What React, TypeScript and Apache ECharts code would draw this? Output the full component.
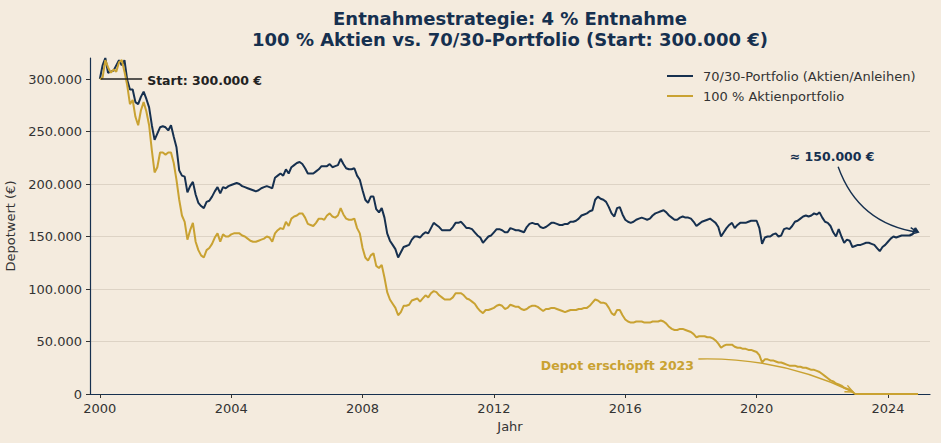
import React, { useEffect, useRef } from "react";
import * as echarts from "echarts";

const START_YEAR = 2000;
const xTickYears = [2000, 2004, 2008, 2012, 2016, 2020, 2024];
const yTickValues = [0, 50000, 100000, 150000, 200000, 250000, 300000];
const seriesNames = ["70/30-Portfolio (Aktien/Anleihen)", "100 % Aktienportfolio"];
const titleLines = [
  "Entnahmestrategie: 4 % Entnahme",
  "100 % Aktien vs. 70/30-Portfolio (Start: 300.000 €)",
];

// monthly values in thousand €, Jan 2000 .. Dec 2024
const balanced = [
  300, 313, 320, 306, 307, 308, 313, 318, 313, 318, 299, 290,
  290, 278, 276, 283, 288, 281, 273, 256, 242, 248, 254, 255,
  254, 251, 256, 245, 235, 213, 208, 207, 192, 198, 202, 190,
  182, 179, 177, 183, 184, 188, 193, 197, 191, 197, 196, 198,
  199, 200, 201, 200, 198, 197, 196, 195, 194, 193, 194, 196,
  197, 198, 197, 196, 206, 208, 210, 208, 214, 210, 216, 218,
  220, 221, 219, 215, 210, 210, 210, 212, 214, 217, 217, 217,
  219, 216, 217, 218, 224, 219, 215, 214, 214, 215, 208, 204,
  194, 185, 182, 188, 188, 176, 173, 177, 168, 153, 146, 142,
  138, 130, 135, 140, 141, 142, 147, 150, 150, 149, 152, 154,
  153, 158, 163, 161, 159, 156, 156, 156, 156, 159, 163, 163,
  164, 161, 158, 158, 157, 154, 151, 149, 144, 147, 150, 151,
  154, 157, 157, 156, 154, 154, 158, 157, 156, 156, 155, 154,
  159, 162, 163, 162, 162, 159, 158, 159, 161, 163, 163, 162,
  161, 161, 162, 162, 164, 164, 165, 167, 170, 171, 172, 174,
  175, 185, 188, 186, 185, 183, 178, 172, 169, 177, 178, 171,
  166, 164, 163, 164, 166, 167, 168, 167, 166, 167, 170, 172,
  173, 174, 175, 173, 170, 168, 166, 166, 168, 169, 168, 168,
  167, 164, 160, 162, 164, 165, 166, 167, 165, 163, 159, 150,
  154, 158, 161, 163, 158, 161, 163, 163, 163, 164, 165, 165,
  165, 158, 143, 149, 150, 150, 152, 153, 150, 151, 157, 158,
  157, 160, 164, 165, 167, 169, 170, 169, 170, 172, 171, 173,
  168, 164, 163, 160, 154, 150, 157, 150, 144, 147, 146, 140,
  141, 142, 142, 143, 144, 144, 143, 142, 139, 136, 140, 142,
  145, 148, 150, 149, 150, 151, 151, 151, 151, 152, 158, 154,
];

const equity = [
  300, 301, 318, 311, 306, 309, 307, 316, 318, 307, 294, 276,
  280, 264, 256, 270, 278, 269, 256, 232, 211, 216, 230, 230,
  228, 230, 230, 220, 204, 185, 170, 164, 147, 156, 163, 145,
  137, 132, 130, 137, 139, 143, 149, 153, 145, 152, 150, 150,
  152, 153, 153, 153, 151, 150, 148, 146, 145, 145, 146, 147,
  148, 150, 149, 145, 153, 156, 158, 157, 164, 160, 167, 169,
  170, 172, 172, 168, 162, 161, 160, 163, 167, 167, 166, 170,
  172, 169, 168, 170, 177, 171, 167, 166, 166, 167, 158, 153,
  139, 130, 127, 132, 134, 122, 120, 123, 111, 97, 90, 86,
  82, 75, 78, 84, 84, 85, 89, 90, 91, 88, 91, 94,
  92, 96, 98, 97, 94, 92, 90, 90, 90, 92, 96, 96,
  96, 94, 91, 90, 88, 86, 82, 79, 77, 80, 80, 81,
  82, 84, 85, 84, 81, 82, 85, 84, 83, 83, 81, 80,
  81, 83, 84, 84, 83, 81, 79, 81, 81, 82, 82, 81,
  80, 79, 78, 79, 80, 80, 80, 81, 81, 82, 82, 84,
  87, 90, 89, 87, 87, 86, 82, 77, 75, 80, 80, 75,
  71, 69, 68, 68, 69, 69, 69, 68, 68, 68, 69, 69,
  69, 70, 69, 67, 64, 62, 61, 61, 62, 62, 61, 60,
  59, 57, 54, 55, 55, 55, 54, 54, 53, 51, 48, 44,
  46, 47, 47, 47, 45, 44, 44, 43, 43, 42, 42, 41,
  40, 37, 30, 33, 33, 32, 32, 31, 30, 30, 29, 28,
  27, 27, 27, 26, 26, 25, 25, 24, 23, 23, 22, 21,
  19, 17, 15, 13, 12, 10, 9, 8, 6, 5, 4, 2,
  0, 0, 0, 0, 0, 0, 0, 0, 0, 0, 0, 0,
  0, 0, 0, 0, 0, 0, 0, 0, 0, 0, 0, 0,
];

// annotation anchors (data coordinates)
const startNote = { text: "Start: 300.000 €", year: 2001.44, value: 300000, target: [2000, 300000] };
const endNote = { text: "≈ 150.000 €", year: 2022.3, value: 226000, target: [2024.917, 154000] };
const depletedNote = { text: "Depot erschöpft 2023", year: 2015.76, value: 26700, target: [2023.0, 0] };

const BG = "#f4ebde";
const NAVY = "#16304f";
const GOLD = "#c9a232";
const FONT = "DejaVu Sans";
const TXT = "#333333";

const fmt = (v: number) => String(Math.round(v)).replace(/\B(?=(\d{3})+(?!\d))/g, ".");

const toSeries = (vals: number[]) => vals.map((v, i) => [START_YEAR + i / 12, v * 1000]);

function arrowHead(x2: number, y2: number, cx: number, cy: number, color: string) {
  const dx = x2 - cx;
  const dy = y2 - cy;
  const len = Math.hypot(dx, dy) || 1;
  const ux = dx / len;
  const uy = dy / len;
  const L = 8;
  const W = 3.5;
  return {
    type: "polyline",
    shape: {
      points: [
        [x2 - L * ux - W * uy, y2 - L * uy + W * ux],
        [x2, y2],
        [x2 - L * ux + W * uy, y2 - L * uy - W * ux],
      ],
    },
    style: { stroke: color, lineWidth: 1.4, fill: "none" },
    z: 10,
  };
}

export default function App() {
  const ref = useRef<HTMLDivElement>(null);

  useEffect(() => {
    if (!ref.current) return;
    const chart = echarts.init(ref.current, null, { renderer: "svg" });
    const option: any = {
      animation: false,
      backgroundColor: BG,
      textStyle: { fontFamily: FONT },
      grid: { left: 90, right: 11, top: 58, bottom: 49, containLabel: false, outerBoundsMode: "none" },
      legend: {
        orient: "vertical",
        left: 667,
        top: 69,
        padding: 0,
        itemWidth: 26,
        itemHeight: 2,
        itemGap: 6,
        icon: "rect",
        data: seriesNames,
        textStyle: { fontFamily: FONT, fontSize: 13, color: TXT, lineHeight: 14, padding: [0, 0, 0, 5] },
      },
      xAxis: {
        type: "value",
        min: 1999.7,
        max: 2025.28,
        name: "Jahr",
        nameLocation: "middle",
        nameGap: 25,
        nameTextStyle: { fontFamily: FONT, fontSize: 13, color: TXT },
        axisLine: { show: true, onZero: false, lineStyle: { color: NAVY, width: 1.2 } },
        axisTick: { show: true, length: 4, customValues: xTickYears, lineStyle: { color: TXT } },
        axisLabel: {
          customValues: xTickYears,
          fontFamily: FONT,
          fontSize: 13,
          color: TXT,
          margin: 8,
          formatter: (v: number) => String(Math.round(v)),
        },
        splitLine: { show: false },
      },
      yAxis: {
        type: "value",
        min: 0,
        max: 320000,
        interval: 50000,
        name: "Depotwert (€)",
        nameLocation: "middle",
        nameGap: 68,
        nameRotate: 90,
        nameTextStyle: { fontFamily: FONT, fontSize: 13, color: TXT },
        axisLine: { show: true, lineStyle: { color: NAVY, width: 1.2 } },
        axisTick: { show: true, length: 4, customValues: yTickValues, lineStyle: { color: TXT } },
        axisLabel: {
          customValues: yTickValues,
          fontFamily: FONT,
          fontSize: 13,
          color: TXT,
          margin: 8,
          formatter: (v: number) => fmt(v),
        },
        splitLine: { show: true, showMaxLine: false, lineStyle: { color: "#ddd3c5", width: 1 } },
      },
      series: [
        {
          name: seriesNames[0],
          type: "line",
          data: toSeries(balanced),
          showSymbol: false,
          symbol: "none",
          lineStyle: { color: NAVY, width: 2 },
          itemStyle: { color: NAVY },
          z: 3,
        },
        {
          name: seriesNames[1],
          type: "line",
          data: toSeries(equity),
          showSymbol: false,
          symbol: "none",
          lineStyle: { color: GOLD, width: 2 },
          itemStyle: { color: GOLD },
          z: 4,
        },
      ],
    };
    chart.setOption(option);

    const p = (x: number, y: number) => chart.convertToPixel({ xAxisIndex: 0, yAxisIndex: 0 }, [x, y]) as number[];
    const left = p(1999.7, 0)[0];
    const right = p(2025.28, 0)[0];
    const cx = (left + right) / 2;

    const elements: any[] = [];
    elements.push({
      type: "text",
      x: cx,
      y: 18,
      style: { text: titleLines[0], fill: NAVY, font: `bold 18px '${FONT}'`, textAlign: "center", textVerticalAlign: "middle" },
    });
    elements.push({
      type: "text",
      x: cx,
      y: 39,
      style: { text: titleLines[1], fill: NAVY, font: `bold 18px '${FONT}'`, textAlign: "center", textVerticalAlign: "middle" },
    });

    // Start note
    const sT = p(startNote.target[0], startNote.target[1]);
    const sP = p(startNote.year, startNote.value);
    elements.push({
      type: "line",
      shape: { x1: sT[0] + 1, y1: sT[1], x2: sP[0] - 5, y2: sT[1] },
      style: { stroke: "#222", lineWidth: 1.3 },
      z: 10,
    });
    elements.push({
      type: "text",
      x: sP[0],
      y: sP[1] + 1,
      style: { text: startNote.text, fill: "#222", font: `bold 12.5px '${FONT}'`, textAlign: "left", textVerticalAlign: "middle" },
      z: 10,
    });

    // End note
    const eP = p(endNote.year, endNote.value);
    const eT = p(endNote.target[0], endNote.target[1]);
    elements.push({
      type: "text",
      x: eP[0],
      y: eP[1],
      style: { text: endNote.text, fill: NAVY, font: `bold 12.5px '${FONT}'`, textAlign: "center", textVerticalAlign: "middle" },
      z: 10,
    });
    {
      const x1 = eP[0] + 6;
      const y1 = eP[1] + 10;
      const x2 = eT[0];
      const y2 = eT[1];
      const mx = (x1 + x2) / 2;
      const my = (y1 + y2) / 2;
      const rad = -0.3;
      const cpx = mx + rad * (y2 - y1);
      const cpy = my - rad * (x2 - x1);
      elements.push({
        type: "bezierCurve",
        shape: { x1, y1, x2, y2, cpx1: cpx, cpy1: cpy },
        style: { stroke: NAVY, lineWidth: 1.4, fill: "none" },
        z: 10,
      });
      elements.push(arrowHead(x2, y2, cpx, cpy, NAVY));
    }

    // Depleted note
    const dP = p(depletedNote.year, depletedNote.value);
    const dT = p(depletedNote.target[0], depletedNote.target[1]);
    elements.push({
      type: "text",
      x: dP[0],
      y: dP[1],
      style: { text: depletedNote.text, fill: GOLD, font: `bold 12.5px '${FONT}'`, textAlign: "center", textVerticalAlign: "middle" },
      z: 10,
    });
    {
      const x1 = dP[0] + 81;
      const y1 = dP[1] - 7;
      const x2 = dT[0] - 2;
      const y2 = dT[1] - 2;
      const mx = (x1 + x2) / 2;
      const my = (y1 + y2) / 2;
      const rad = 0.12;
      const cpx = mx + rad * (y2 - y1);
      const cpy = my - rad * (x2 - x1);
      elements.push({
        type: "bezierCurve",
        shape: { x1, y1, x2, y2, cpx1: cpx, cpy1: cpy },
        style: { stroke: GOLD, lineWidth: 1.4, fill: "none" },
        z: 10,
      });
      elements.push(arrowHead(x2, y2, cpx, cpy, GOLD));
    }

    chart.setOption({ graphic: { elements } });

    return () => {
      chart.dispose();
    };
  }, []);

  return (
    <div
      ref={ref}
      style={{ position: "fixed", left: 0, top: 0, width: 941, height: 443, background: BG }}
    />
  );
}
